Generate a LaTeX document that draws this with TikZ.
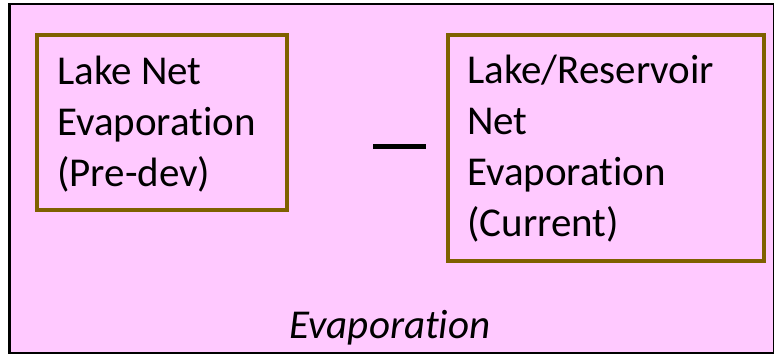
\documentclass[tikz,border=0pt]{standalone}
\usepackage{fontspec}
\setmainfont[Ligatures={NoCommon}]{Carlito}
\definecolor{panelpink}{HTML}{FFC9FF}
\definecolor{boxbrown}{HTML}{7F6000}
\tikzset{
  panel/.style={draw=black, fill=panelpink, line width=2.5pt, inner sep=0pt, anchor=north west},
  termbox/.style={draw=boxbrown, line width=4pt, inner sep=0pt, anchor=north west},
  termtext/.style={inner sep=0pt, anchor=north west, align=left, font=\fontsize{41}{51}\selectfont},
  caption/.style={inner sep=0pt, anchor=base, font=\fontsize{41}{51}\selectfont\itshape},
}
\begin{document}
\begin{tikzpicture}[x=1pt,y=-1pt]
\useasboundingbox (0,0) rectangle (774,355);
% outer panel
\node[panel, minimum width=765pt, minimum height=349pt] (frame) at (8,3) {};
% left term
\node[termbox, minimum width=250pt, minimum height=175pt] (pre) at (35,33) {};
\node[termtext] (pretxt) at (57,56) {Lake Net\\Evaporation\\(Pre-dev)};
% right term
\node[termbox, minimum width=316pt, minimum height=226pt] (cur) at (446,33) {};
\node[termtext] (curtxt) at (467,55) {Lake/Reservoir\\Net\\Evaporation\\(Current)};
% minus sign between the two terms
\coordinate (mleft) at (373,147);
\coordinate (mright) at (426,147);
\draw[line width=5pt] (mleft) -- (mright);
% caption
\node[caption] (cap) at (390,338) {Evaporation};
\end{tikzpicture}
\end{document}
